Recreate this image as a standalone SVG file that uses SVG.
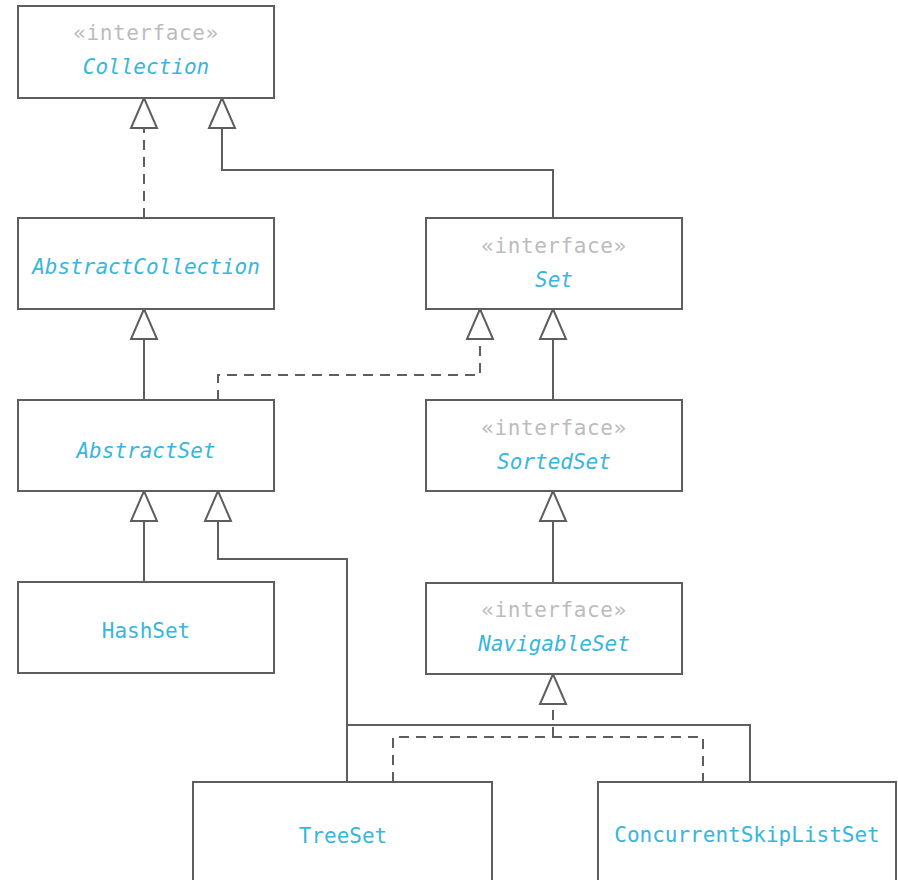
<svg xmlns="http://www.w3.org/2000/svg" width="898" height="880" viewBox="0 0 898 880">
<style>
  .box { fill: #ffffff; stroke: #5e5e5e; stroke-width: 2; }
  .st { font-family: "DejaVu Sans Mono", "Liberation Mono", monospace; font-size: 21px; letter-spacing: 0.6px; fill: #bcbcbc; text-anchor: middle; }
  .nm { font-family: "DejaVu Sans Mono", "Liberation Mono", monospace; font-size: 21px; fill: #38b6dd; text-anchor: middle; }
  .it { font-style: italic; }
  .ln { fill: none; stroke: #5e5e5e; stroke-width: 2; }
  .dash { stroke-dasharray: 10 7; }
  .tri { fill: #ffffff; stroke: #5e5e5e; stroke-width: 2; stroke-linejoin: miter; }
</style>
<defs>
  <polygon id="tri" class="tri" points="0,0 -13,30 13,30"/>
</defs>
<rect width="898" height="880" fill="#ffffff"/>

<g id="connectors">
  <path class="ln dash" d="M144 218 V128"/>
  <path class="ln" d="M553 218 V170 H222 V128"/>
  <path class="ln" d="M144 400 V339"/>
  <path class="ln dash" d="M218 400 V375 H480 V339"/>
  <path class="ln" d="M553 400 V339"/>
  <path class="ln" d="M144 582 V521"/>
  <path class="ln" d="M347 782 V559 H218 V521"/>
  <path class="ln" d="M347 725 H750 V782"/>
  <path class="ln" d="M553 583 V521"/>
  <path class="ln dash" d="M393 782 V737 H703 V782"/>
  <path class="ln dash" d="M553 737 V704"/>
  <use href="#tri" x="144" y="98"/>
  <use href="#tri" x="222" y="98"/>
  <use href="#tri" x="144" y="309"/>
  <use href="#tri" x="480" y="309"/>
  <use href="#tri" x="553" y="309"/>
  <use href="#tri" x="144" y="491"/>
  <use href="#tri" x="218" y="491"/>
  <use href="#tri" x="553" y="491"/>
  <use href="#tri" x="553" y="674"/>
</g>

<g id="Collection">
  <rect class="box" x="18" y="6" width="256" height="92"/>
  <text class="st" x="146" y="40">«interface»</text>
  <text class="nm it" x="146" y="74">Collection</text>
</g>
<g id="AbstractCollection">
  <rect class="box" x="18" y="218" width="256" height="91"/>
  <text class="nm it" x="146" y="274">AbstractCollection</text>
</g>
<g id="Set">
  <rect class="box" x="426" y="218" width="256" height="91"/>
  <text class="st" x="554" y="253">«interface»</text>
  <text class="nm it" x="554" y="287">Set</text>
</g>
<g id="AbstractSet">
  <rect class="box" x="18" y="400" width="256" height="91"/>
  <text class="nm it" x="146" y="458">AbstractSet</text>
</g>
<g id="SortedSet">
  <rect class="box" x="426" y="400" width="256" height="91"/>
  <text class="st" x="554" y="435">«interface»</text>
  <text class="nm it" x="554" y="469">SortedSet</text>
</g>
<g id="HashSet">
  <rect class="box" x="18" y="582" width="256" height="91"/>
  <text class="nm" x="146" y="638">HashSet</text>
</g>
<g id="NavigableSet">
  <rect class="box" x="426" y="583" width="256" height="91"/>
  <text class="st" x="554" y="617">«interface»</text>
  <text class="nm it" x="554" y="651">NavigableSet</text>
</g>
<g id="TreeSet">
  <rect class="box" x="193" y="782" width="299" height="120"/>
  <text class="nm" x="343" y="843">TreeSet</text>
</g>
<g id="ConcurrentSkipListSet">
  <rect class="box" x="598" y="782" width="298" height="120"/>
  <text class="nm" x="747" y="842">ConcurrentSkipListSet</text>
</g>
</svg>
